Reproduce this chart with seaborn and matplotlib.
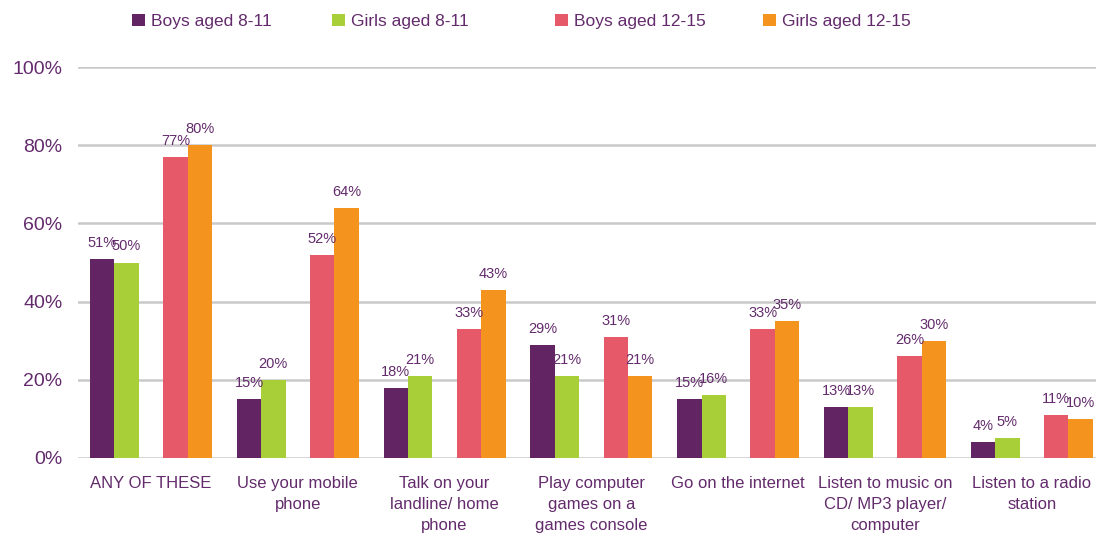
import numpy as np
import pandas as pd
import matplotlib
matplotlib.use("Agg")
import matplotlib.pyplot as plt
from matplotlib.patches import Patch
import seaborn as sns

# Activities and share of children doing each (%)
categories = [
    "ANY OF THESE",
    "Use your mobile\nphone",
    "Talk on your\nlandline/ home\nphone",
    "Play computer\ngames on a\ngames console",
    "Go on the internet",
    "Listen to music on\nCD/ MP3 player/\ncomputer",
    "Listen to a radio\nstation",
]
boys_8_11 = [51, 15, 18, 29, 15, 13, 4]
girls_8_11 = [50, 20, 21, 21, 16, 13, 5]
boys_12_15 = [77, 52, 33, 31, 33, 26, 11]
girls_12_15 = [80, 64, 43, 21, 35, 30, 10]

series_names = ["Boys aged 8-11", "Girls aged 8-11", "Boys aged 12-15", "Girls aged 12-15"]
series_colors = ["#632463", "#A8CE38", "#E65968", "#F4941F"]
text_color = "#632B6C"
grid_color = "#C9C9C9"

# Blank slot that separates the two age bands inside each group
spacer = " "

rows = []
for name, vals in zip(series_names, [boys_8_11, girls_8_11, boys_12_15, girls_12_15]):
    for cat, v in zip(categories, vals):
        rows.append({"category": cat, "group": name, "value": v})
for cat in categories:
    rows.append({"category": cat, "group": spacer, "value": np.nan})
df = pd.DataFrame(rows)

hue_order = [series_names[0], series_names[1], spacer, series_names[2], series_names[3]]
palette = {series_names[0]: series_colors[0], series_names[1]: series_colors[1],
           spacer: "#FFFFFF", series_names[2]: series_colors[2], series_names[3]: series_colors[3]}

sns.set_theme(style="white")
plt.rcParams["font.family"] = ["Liberation Sans", "DejaVu Sans"]

fig = plt.figure(figsize=(10.96, 5.36), dpi=100)
ax = fig.add_axes([77.6 / 1096, 78 / 536, 7 * 146.8 / 1096, 391 / 536])

sns.barplot(data=df, x="category", y="value", hue="group", hue_order=hue_order,
            order=categories, palette=palette, width=0.832, saturation=1,
            dodge=True, legend=False, errorbar=None, linewidth=0, ax=ax)

for cont in ax.containers:
    heights = [b.get_height() for b in cont]
    if len(cont) == 0 or all(np.isnan(h) for h in heights):
        continue
    ax.bar_label(cont, labels=[f"{h:.0f}%" for h in heights], padding=6.5,
                 fontsize=10.5, color=text_color)

ax.set_ylim(0, 100)
ax.set_yticks([0, 20, 40, 60, 80, 100])
ax.set_yticklabels([f"{t}%" for t in [0, 20, 40, 60, 80, 100]])
ax.set_xlabel("")
ax.set_ylabel("")
ax.grid(axis="y", color=grid_color, linewidth=1.8)
ax.grid(axis="x", visible=False)
ax.set_axisbelow(True)
for s in ax.spines.values():
    s.set_visible(False)
ax.tick_params(axis="y", length=0, pad=11, labelsize=14, labelcolor=text_color)
ax.tick_params(axis="x", length=0, pad=13, labelsize=12, labelcolor=text_color)
for lbl in ax.get_xticklabels():
    lbl.set_linespacing(1.5)
    lbl.set_verticalalignment("top")

# Legend entries laid out along the top
legend_x = [132, 332, 555, 763]
for name, color, x in zip(series_names, series_colors, legend_x):
    fig.legend(handles=[Patch(facecolor=color, edgecolor="none")], labels=[name],
               loc="center left", bbox_to_anchor=(x / 1096, 1 - 21.5 / 536),
               frameon=False, borderpad=0, borderaxespad=0,
               handlelength=0.72, handleheight=0.72, handletextpad=0.35,
               fontsize=12.5, labelcolor=text_color)

fig.savefig("out.png", dpi=100)
